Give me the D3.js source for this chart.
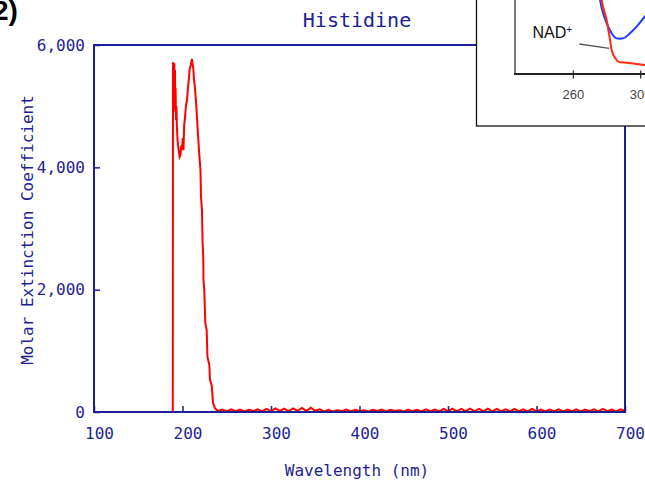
<!DOCTYPE html>
<html>
<head>
<meta charset="utf-8">
<script src="https://cdn.jsdelivr.net/npm/d3@7"></script>
<style>
  html, body { margin: 0; padding: 0; background: #fff; }
  svg { display: block; }
</style>
</head>
<body>
<svg id="chart" width="645" height="480"></svg>
<script>
// Histidine absorption spectrum (molar extinction coefficient vs wavelength)
const peakWavelengths = [189.0, 189.3, 189.7, 190.0, 190.4, 190.8, 191.1, 191.5, 191.9, 192.2, 192.7, 193.2,
  193.6, 194.4, 195.3, 196.0, 196.8, 197.7, 198.6, 199.4, 200.3, 201.1, 201.9, 202.8, 204.0, 205.1,
  206.2, 207.3, 208.2, 209.2, 209.9, 210.7, 211.4, 212.2, 213.0, 214.1, 215.3, 216.4, 217.5, 219.0,
  220.3, 220.9, 222.0, 222.7, 223.5, 223.7, 224.6, 225.8, 227.3, 228.2, 230.3, 231.1, 233.0, 234.5,
  236.7, 239.0];
const peakValues = [0, 5720, 5250, 5650, 5100, 5700, 4940, 5590, 4900, 5300, 4770, 5000,
  4690, 4450, 4320, 4250, 4170, 4200, 4360, 4280, 4480, 4280, 4690, 4810, 5020, 5100,
  5300, 5460, 5620, 5660, 5720, 5770, 5690, 5620, 5430, 5300, 5070, 4810, 4530, 4200,
  3960, 3515, 3300, 2780, 2485, 2160, 2000, 1455, 1340, 900, 770, 520, 440, 150,
  60, 30];

// Flat tail of the spectrum, sampled every 5 nm from 240 to 700 nm
const tailWavelengths = d3.range(240, 701, 5);
const tailValues = [15, 40, 10, 45, 15, 40, 10, 35, 15, 45, 10, 50, 15, 60, 20, 55, 15, 60, 20, 65,
  15, 70, 20, 45, 10, 35, 10, 30, 15, 40, 10, 35, 15, 30, 10, 35, 15, 40, 10, 35,
  15, 30, 10, 40, 15, 35, 10, 45, 15, 40, 10, 50, 15, 55, 10, 50, 15, 55, 10, 50,
  15, 55, 10, 50, 15, 45, 10, 50, 15, 45, 10, 50, 15, 40, 10, 40, 15, 45, 10, 40,
  15, 45, 10, 40, 15, 45, 10, 50, 15, 40, 10, 45, 20];

const xTicks = [100, 200, 300, 400, 500, 600, 700];
const yTicks = [0, 2000, 4000, 6000];

// NAD+/NADH inset (partial view)
const insetTicks = [260, 300];
const nadhWavelengths = [274.5, 275.9, 278.4, 281.2, 283.0, 285.3, 287.5, 289.7, 293.6, 297.6, 301.5, 304.0];
const nadhValues = [1.25, 1.0, 0.77, 0.62, 0.54, 0.485, 0.478, 0.482, 0.55, 0.64, 0.75, 0.82];
const nadWavelengths = [275.5, 276.85, 279.8, 281.8, 282.8, 285.3, 287.7, 291.7, 297.6, 302.6, 305.0];
const nadValues = [1.25, 1.0, 0.73, 0.46, 0.32, 0.2, 0.158, 0.153, 0.135, 0.122, 0.115];

const navy = "#1e1e96";
const mono = "'DejaVu Sans Mono', monospace";

const svg = d3.select("#chart");

const x = d3.scaleLinear().domain([100, 700]).range([94, 625]);
const y = d3.scaleLinear().domain([0, 6000]).range([412, 45]);

const spectrum = peakWavelengths.map((w, i) => [w, peakValues[i]])
  .concat(tailWavelengths.map((w, i) => [w, tailValues[i]]));

// spectrum trace
svg.append("path")
  .datum(spectrum)
  .attr("fill", "none")
  .attr("stroke", "#ff0000")
  .attr("stroke-width", 2)
  .attr("stroke-linejoin", "miter")
  .attr("d", d3.line().x(d => x(d[0])).y(d => y(d[1])));

// axes with inward ticks
const xAxis = svg.append("g")
  .attr("transform", `translate(0,${y(0)})`)
  .call(d3.axisBottom(x).tickValues(xTicks).tickSizeInner(-6).tickSizeOuter(0).tickPadding(15.5));
const yAxis = svg.append("g")
  .attr("transform", `translate(${x(100)},0)`)
  .call(d3.axisLeft(y).tickValues(yTicks).tickSizeInner(-6).tickSizeOuter(0).tickPadding(9)
    .tickFormat(d3.format(",")));

[xAxis, yAxis].forEach(g => {
  g.select(".domain").remove();
  g.selectAll(".tick line").attr("stroke", navy).attr("stroke-width", 1.5);
  g.selectAll(".tick text")
    .attr("fill", navy)
    .style("font-family", mono)
    .style("font-size", "16px");
});
xAxis.selectAll(".tick text").attr("dx", 5);

// plot frame
svg.append("rect")
  .attr("x", x(100)).attr("y", y(6000))
  .attr("width", x(700) - x(100)).attr("height", y(0) - y(6000))
  .attr("fill", "none").attr("stroke", navy).attr("stroke-width", 2);

// titles
svg.append("text")
  .attr("x", 357).attr("y", 26.5)
  .attr("text-anchor", "middle")
  .attr("fill", navy)
  .style("font-family", mono).style("font-size", "20px")
  .text("Histidine");

svg.append("text")
  .attr("x", 357).attr("y", 476)
  .attr("text-anchor", "middle")
  .attr("fill", navy)
  .style("font-family", mono).style("font-size", "16px")
  .text("Wavelength (nm)");

svg.append("text")
  .attr("transform", "translate(33,230) rotate(-90)")
  .attr("text-anchor", "middle")
  .attr("fill", navy)
  .style("font-family", mono).style("font-size", "16px")
  .text("Molar Extinction Coefficient");

// panel label
svg.append("text")
  .attr("x", -7).attr("y", 20)
  .attr("fill", "#000")
  .style("font-family", "'Liberation Sans', Arial, sans-serif")
  .style("font-size", "28px").style("font-weight", "bold")
  .text("2)");

// ---- inset ----
const inset = svg.append("g");
inset.append("rect")
  .attr("x", 476.5).attr("y", -10)
  .attr("width", 200).attr("height", 136)
  .attr("fill", "#fff").attr("stroke", "#111").attr("stroke-width", 1.3);

const xi = d3.scaleLinear().domain([260, 300]).range([573.3, 640.7]);
const yi = d3.scaleLinear().domain([0, 1]).range([74, 0]);

inset.append("clipPath").attr("id", "insetClip")
  .append("rect").attr("x", 516).attr("y", -10).attr("width", 140).attr("height", 84);

const insetLine = d3.line().x(d => xi(d[0])).y(d => yi(d[1])).curve(d3.curveMonotoneX);

inset.append("path")
  .datum(nadhWavelengths.map((w, i) => [w, nadhValues[i]]))
  .attr("clip-path", "url(#insetClip)")
  .attr("fill", "none").attr("stroke", "#1f3cff").attr("stroke-width", 2)
  .attr("d", insetLine);

inset.append("path")
  .datum(nadWavelengths.map((w, i) => [w, nadValues[i]]))
  .attr("clip-path", "url(#insetClip)")
  .attr("fill", "none").attr("stroke", "#ff2a10").attr("stroke-width", 2)
  .attr("d", insetLine);

// inset axes
inset.append("line")
  .attr("x1", 515).attr("x2", 515).attr("y1", -10).attr("y2", 74)
  .attr("stroke", "#333").attr("stroke-width", 1.3);
inset.append("line")
  .attr("x1", 514).attr("x2", 660).attr("y1", 74).attr("y2", 74)
  .attr("stroke", "#222").attr("stroke-width", 2);

inset.selectAll(".itick")
  .data(insetTicks).join("line")
  .attr("x1", d => xi(d)).attr("x2", d => xi(d))
  .attr("y1", 70.5).attr("y2", 78.5)
  .attr("stroke", "#222").attr("stroke-width", 1.2);

inset.selectAll(".ilabel")
  .data(insetTicks).join("text")
  .attr("x", d => xi(d)).attr("y", 99)
  .attr("text-anchor", "middle")
  .attr("fill", "#444")
  .style("font-family", "'Liberation Sans', Arial, sans-serif")
  .style("font-size", "13px")
  .text(d => d);

// NAD+ label with leader line
inset.append("line")
  .attr("x1", 579.3).attr("y1", 44).attr("x2", 609.3).attr("y2", 48.3)
  .attr("stroke", "#555").attr("stroke-width", 1.3);

const nadLabel = inset.append("text")
  .attr("x", 532.5).attr("y", 37.7)
  .attr("fill", "#111")
  .style("font-family", "'Liberation Sans', Arial, sans-serif")
  .style("font-size", "16px");
nadLabel.append("tspan").text("NAD");
nadLabel.append("tspan").attr("dy", -5).style("font-size", "10px").text("+");
</script>
</body>
</html>
